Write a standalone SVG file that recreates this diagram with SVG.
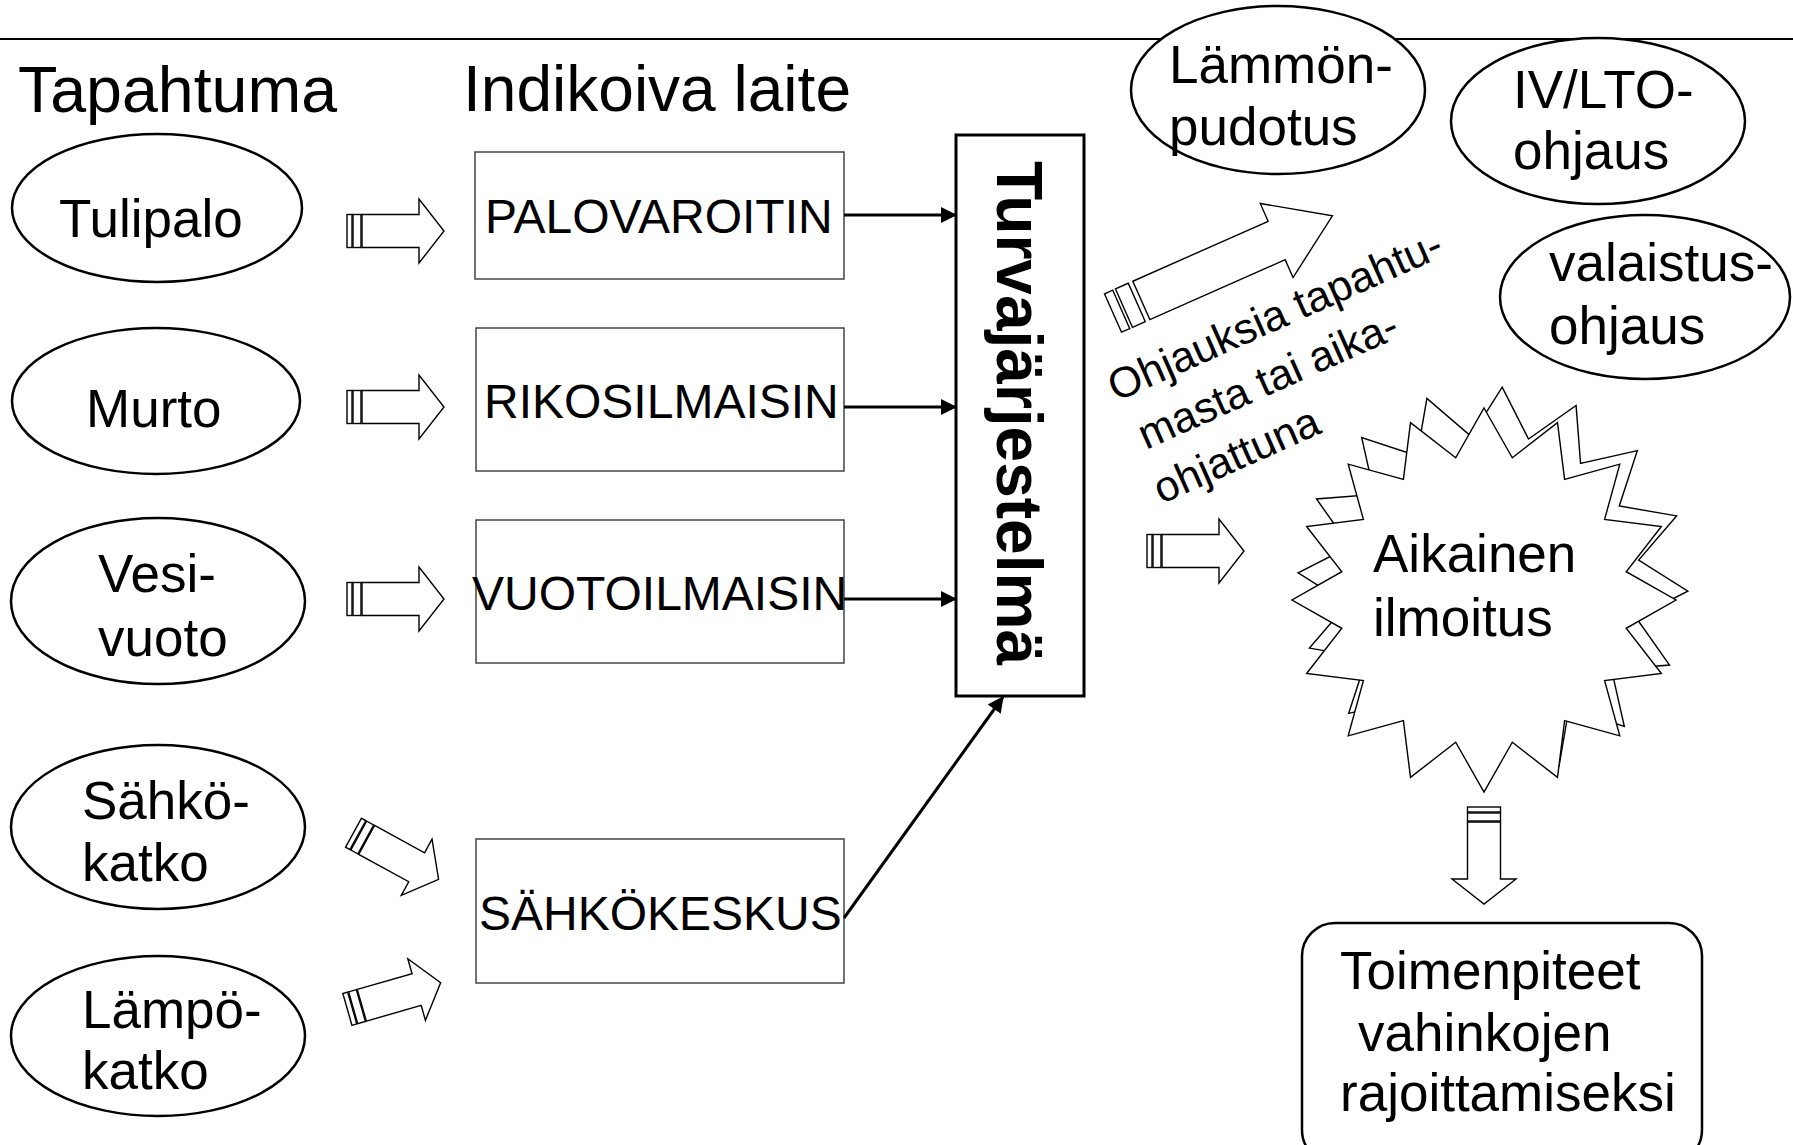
<svg xmlns="http://www.w3.org/2000/svg" xmlns:xlink="http://www.w3.org/1999/xlink" width="1793" height="1145" viewBox="0 0 1793 1145">
<style>
text{font-family:"Liberation Sans",Arial,sans-serif;fill:#000}
.t53{font-size:53px}
.t48{font-size:48px}
.hdr{font-size:64px}
.ell{fill:#fff;stroke:#000;stroke-width:2.5}
.box{fill:#fff;stroke:#444;stroke-width:1.5}
.blk{fill:#fff;stroke:#000;stroke-width:1.4}
.con{stroke:#000;stroke-width:3;fill:none}
.star{fill:#fff;stroke:#000;stroke-width:1.4}
</style>
<defs>
<marker id="ah" markerUnits="userSpaceOnUse" markerWidth="16" markerHeight="16" refX="15" refY="8" orient="auto">
<path d="M0,0 L16,8 L0,16 Z" fill="#000"/>
</marker>
<g id="barrow">
<rect x="0" y="-16.5" width="5" height="33" class="blk"/>
<rect x="6" y="-16.5" width="8" height="33" class="blk"/>
<polygon points="15,-16.5 72,-16.5 72,-32 97,0 72,32 72,16.5 15,16.5" class="blk"/>
</g>
<polygon id="star" points="0,-192 28.3,-142.2 73.5,-177.4 80.6,-120.6 135.8,-135.8 120.6,-80.6 177.4,-73.5 142.2,-28.3 192,0 142.2,28.3 177.4,73.5 120.6,80.6 135.8,135.8 80.6,120.6 73.5,177.4 28.3,142.2 0,192 -28.3,142.2 -73.5,177.4 -80.6,120.6 -135.8,135.8 -120.6,80.6 -177.4,73.5 -142.2,28.3 -192,0 -142.2,-28.3 -177.4,-73.5 -120.6,-80.6 -135.8,-135.8 -80.6,-120.6 -73.5,-177.4 -28.3,-142.2"/>
</defs>
<rect width="1793" height="1145" fill="#fff"/>
<line x1="0" y1="39" x2="1793" y2="39" stroke="#000" stroke-width="2"/>
<g id="headers">
<text class="hdr" x="18" y="112" textLength="319" lengthAdjust="spacingAndGlyphs">Tapahtuma</text>
<text class="hdr" x="463" y="111" textLength="388" lengthAdjust="spacingAndGlyphs">Indikoiva laite</text>
</g>
<g id="tulipalo">
<ellipse class="ell" cx="157" cy="208" rx="145" ry="74"/>
<text class="t53" x="59" y="237">Tulipalo</text>
</g>
<g id="murto">
<ellipse class="ell" cx="156" cy="401" rx="144" ry="73"/>
<text class="t53" x="86" y="427">Murto</text>
</g>
<g id="vesivuoto">
<ellipse class="ell" cx="158" cy="601" rx="147" ry="83"/>
<text class="t53" x="98" y="592">Vesi-</text>
<text class="t53" x="98" y="656">vuoto</text>
</g>
<g id="sahkokatko">
<ellipse class="ell" cx="158" cy="827" rx="147" ry="82"/>
<text class="t53" x="82" y="819">Sähkö-</text>
<text class="t53" x="82" y="881">katko</text>
</g>
<g id="lampokatko">
<ellipse class="ell" cx="158" cy="1036" rx="147" ry="80"/>
<text class="t53" x="82" y="1028">Lämpö-</text>
<text class="t53" x="82" y="1089">katko</text>
</g>
<g id="palovaroitin">
<rect class="box" x="475" y="152" width="369" height="127"/>
<text class="t48" x="485" y="233">PALOVAROITIN</text>
</g>
<g id="rikosilmaisin">
<rect class="box" x="476" y="328" width="368" height="143"/>
<text class="t48" x="484" y="418">RIKOSILMAISIN</text>
</g>
<g id="vuotoilmaisin">
<rect class="box" x="476" y="520" width="368" height="143"/>
<text class="t48" x="472" y="610">VUOTOILMAISIN</text>
</g>
<g id="sahkokeskus">
<rect class="box" x="476" y="839" width="368" height="144"/>
<text class="t48" x="479" y="930">SÄHKÖKESKUS</text>
</g>
<g id="turvajarjestelma">
<rect x="956" y="135" width="128" height="561" fill="#fff" stroke="#000" stroke-width="3"/>
<text transform="translate(997,161) rotate(90)" font-size="64" font-weight="bold">Turvajärjestelmä</text>
</g>
<g id="lammonpudotus">
<ellipse class="ell" cx="1278" cy="90" rx="147" ry="84"/>
<text class="t53" x="1169" y="83">Lämmön-</text>
<text class="t53" x="1169" y="145">pudotus</text>
</g>
<g id="ivlto">
<ellipse class="ell" cx="1598" cy="121" rx="147" ry="83"/>
<text class="t53" x="1513" y="108">IV/LTO-</text>
<text class="t53" x="1513" y="169">ohjaus</text>
</g>
<g id="valaistus">
<ellipse class="ell" cx="1645" cy="297" rx="145" ry="82"/>
<text class="t53" x="1549" y="281">valaistus-</text>
<text class="t53" x="1549" y="344">ohjaus</text>
</g>
<g id="ohjauksia-label">
<text transform="translate(1116,402) rotate(-24)" font-size="43"><tspan x="0" y="0">Ohjauksia tapahtu-</tspan><tspan x="8" y="56">masta tai aika-</tspan><tspan x="0" y="112">ohjattuna</tspan></text>
</g>
<g id="aikainen">
<use xlink:href="#star" class="star" transform="translate(1493,582) rotate(2.7) scale(1.016)"/>
<use xlink:href="#star" class="star" transform="translate(1484,600)"/>
<text class="t53" x="1373" y="572">Aikainen</text>
<text class="t53" x="1373" y="636">ilmoitus</text>
</g>
<g id="toimenpiteet">
<rect x="1302" y="923" width="400" height="240" rx="33" ry="33" fill="#fff" stroke="#000" stroke-width="2.5"/>
<text class="t53" x="1340" y="989">Toimenpiteet</text>
<text class="t53" x="1358" y="1051">vahinkojen</text>
<text class="t53" x="1340" y="1111">rajoittamiseksi</text>
</g>
<g id="connectors">
<line class="con" x1="844" y1="215" x2="956" y2="215" marker-end="url(#ah)"/>
<line class="con" x1="844" y1="407" x2="956" y2="407" marker-end="url(#ah)"/>
<line class="con" x1="844" y1="599" x2="956" y2="599" marker-end="url(#ah)"/>
<line class="con" x1="844" y1="918" x2="1003" y2="697" marker-end="url(#ah)"/>
<use xlink:href="#barrow" transform="translate(347,231)"/>
<use xlink:href="#barrow" transform="translate(347,407)"/>
<use xlink:href="#barrow" transform="translate(347,599)"/>
<use xlink:href="#barrow" transform="translate(353.5,832.7) rotate(28.7)"/>
<use xlink:href="#barrow" transform="translate(347.4,1009.4) rotate(-16)"/>
<use xlink:href="#barrow" transform="translate(1147,551)"/>
<use xlink:href="#barrow" transform="translate(1484,807) rotate(90)"/>
<g transform="translate(1113,313) rotate(-23.9)">
<rect x="0" y="-21" width="9" height="42" class="blk"/>
<rect x="12" y="-21" width="14" height="42" class="blk"/>
<polygon points="31,-21 179,-21 179,-40.5 240,0 179,40.5 179,21 31,21" class="blk"/>
</g>
</g>
</svg>
